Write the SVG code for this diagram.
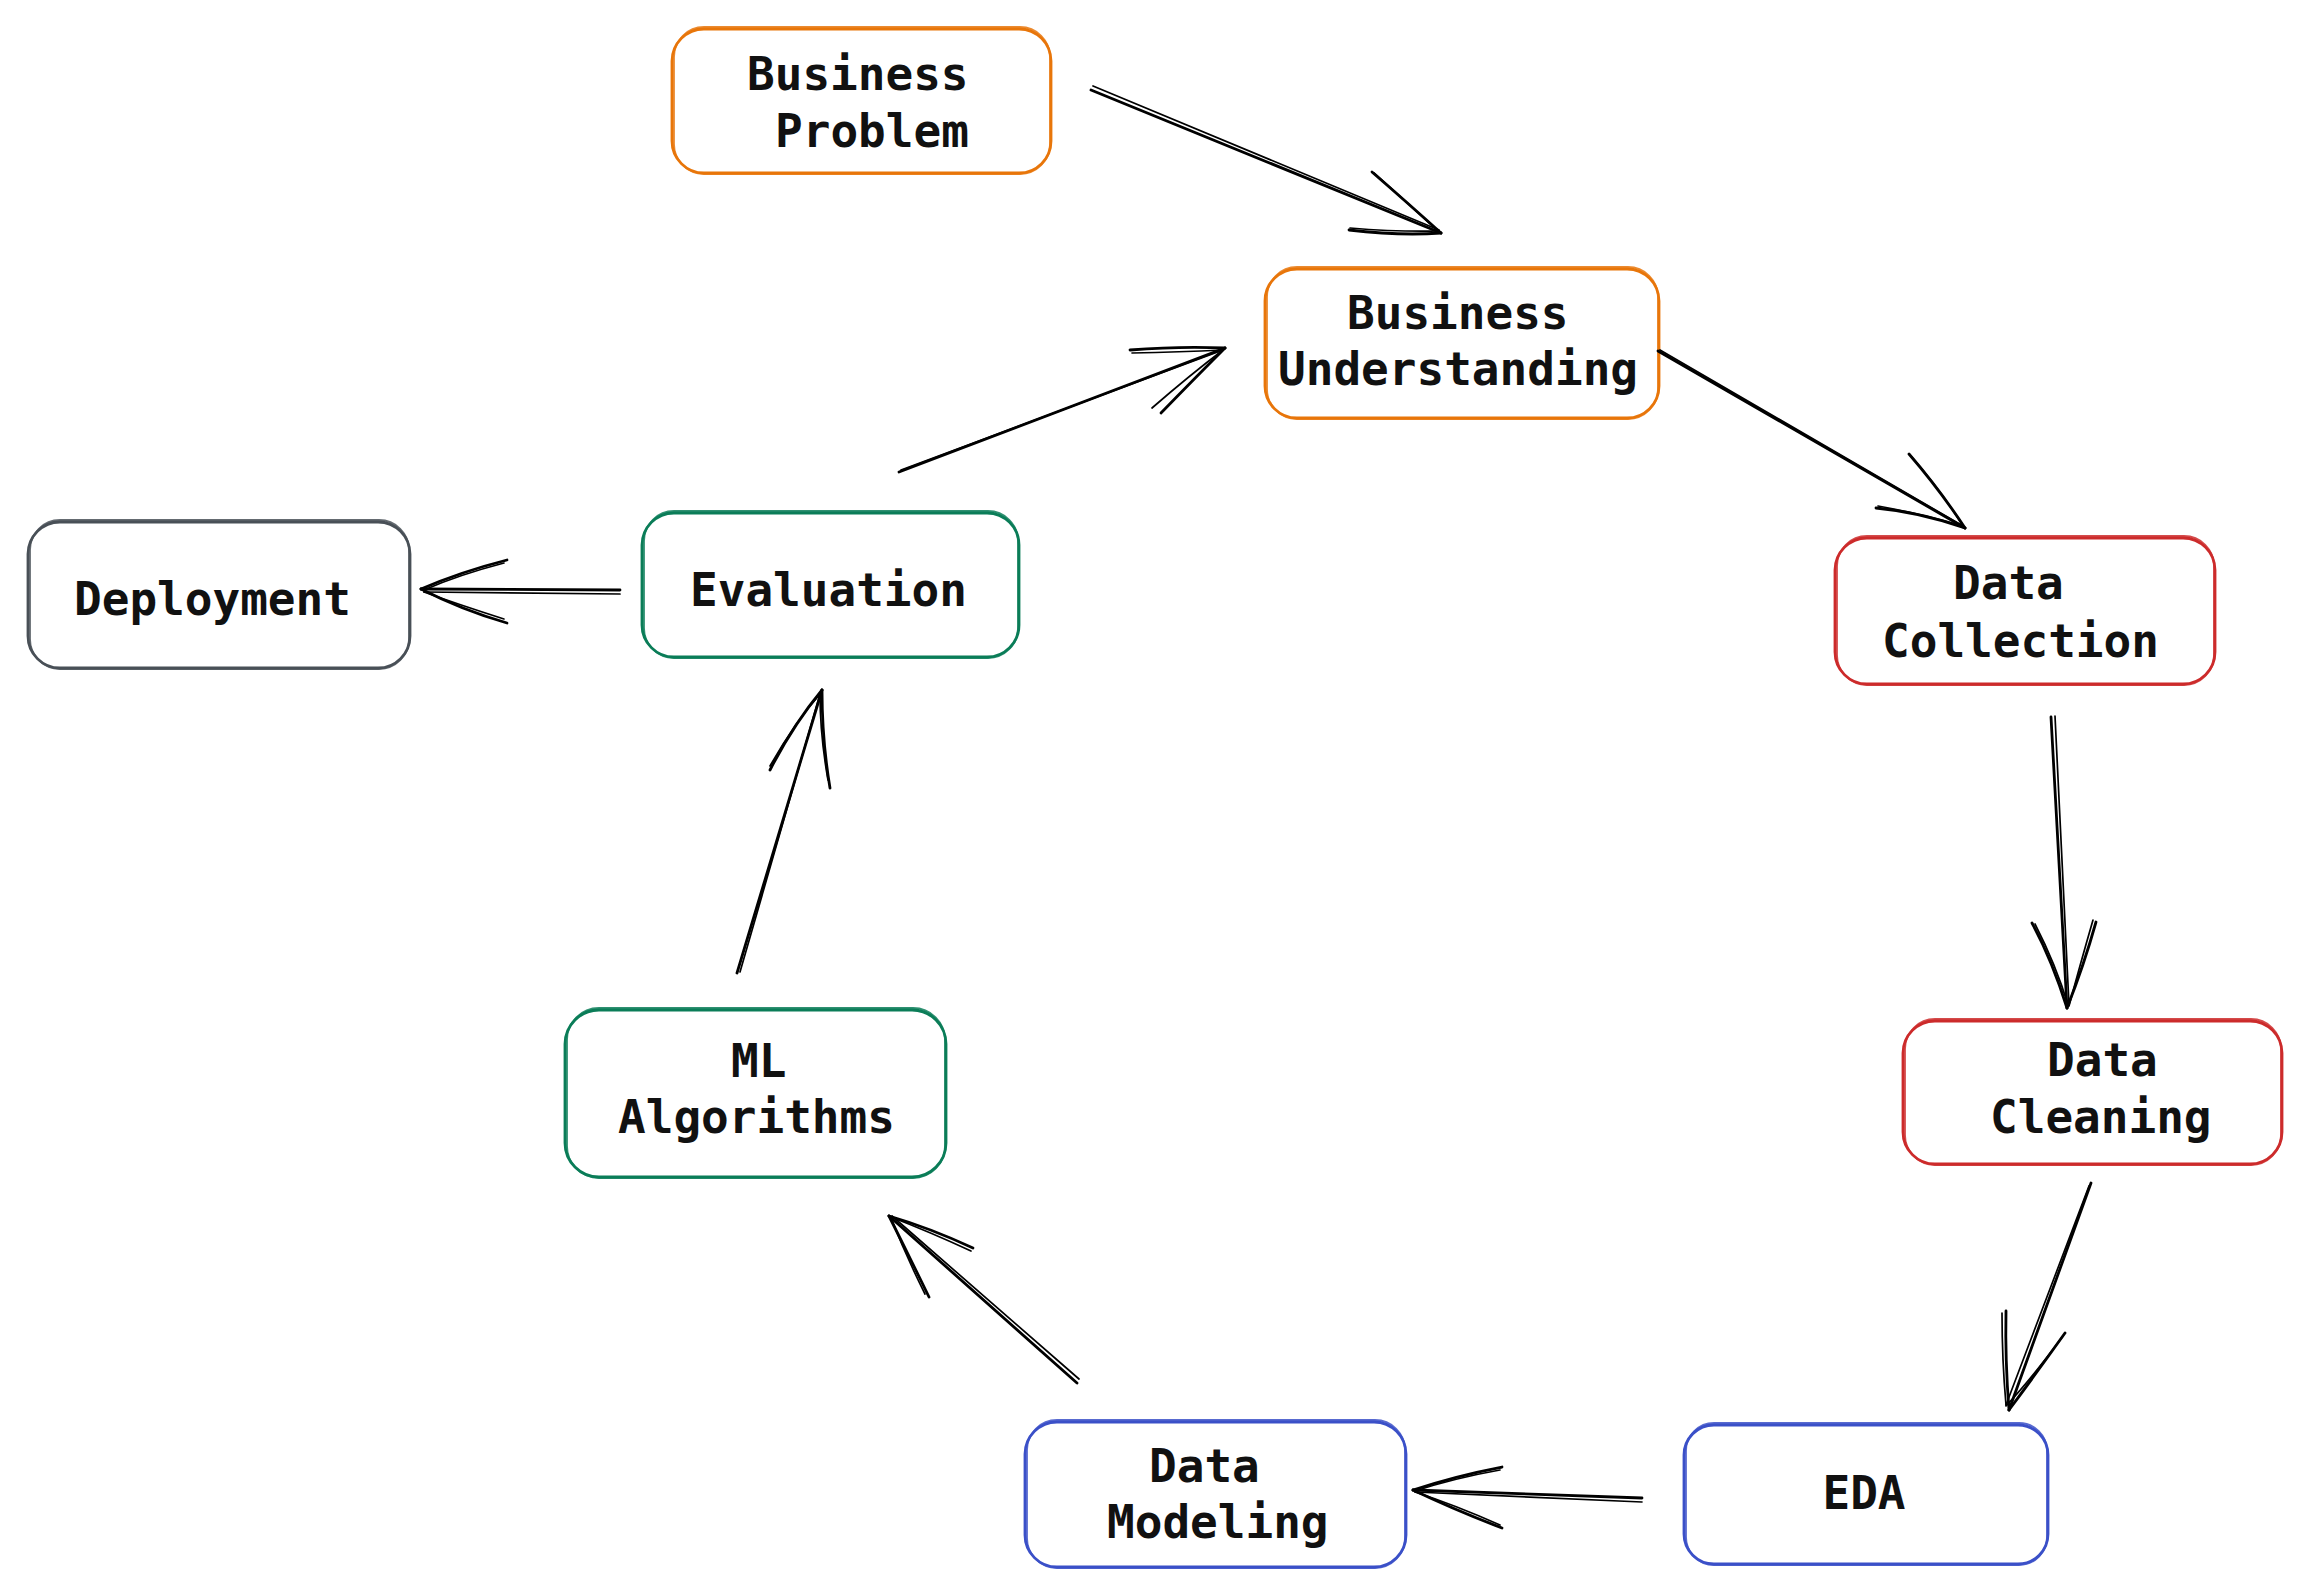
<svg xmlns="http://www.w3.org/2000/svg" width="2311" height="1596" viewBox="0 0 2311 1596">
<style>
.bx{fill:none;stroke-width:2.8;stroke-linejoin:round}
.bx2{fill:none;stroke-width:1.8;stroke-linejoin:round;opacity:0.85}
.or{stroke:#e8760a}
.rd{stroke:#cc2b2b}
.bl{stroke:#3b50c8}
.gr{stroke:#0b7d58}
.gy{stroke:#495057}
.t{font-family:"DejaVu Sans Mono","Liberation Mono",monospace;font-size:46px;font-weight:bold;fill:#111}
.ln{fill:none;stroke:#000;stroke-width:2.8;stroke-linecap:round}
.ln2{fill:none;stroke:#000;stroke-width:1.7;stroke-linecap:round}
</style>
<rect width="2311" height="1596" fill="#fff"/>

<g id="business-problem">
<rect class="bx or" x="672" y="29" width="379" height="144" rx="32"/>
<rect class="bx2 or" x="674" y="27" width="376" height="147" rx="30"/>
<text class="t" x="747" y="90">Business</text>
<text class="t" x="775" y="147">Problem</text>
</g>

<g id="business-understanding">
<rect class="bx or" x="1265" y="269" width="394" height="149" rx="32"/>
<rect class="bx2 or" x="1267" y="267" width="391" height="152" rx="30"/>
<text class="t" x="1347" y="329">Business</text>
<text class="t" x="1278" y="385">Understanding</text>
</g>

<g id="data-collection">
<rect class="bx rd" x="1835" y="538" width="380" height="146" rx="32"/>
<rect class="bx2 rd" x="1837" y="536" width="377" height="149" rx="30"/>
<text class="t" x="1953" y="599">Data</text>
<text class="t" x="1882" y="657">Collection</text>
</g>

<g id="data-cleaning">
<rect class="bx rd" x="1903" y="1021" width="379" height="143" rx="32"/>
<rect class="bx2 rd" x="1905" y="1019" width="376" height="146" rx="30"/>
<text class="t" x="2047" y="1076">Data</text>
<text class="t" x="1990" y="1133">Cleaning</text>
</g>

<g id="eda">
<rect class="bx bl" x="1684" y="1425" width="364" height="139" rx="30"/>
<rect class="bx2 bl" x="1686" y="1423" width="361" height="142" rx="28"/>
<text class="t" x="1864" y="1509" text-anchor="middle">EDA</text>
</g>

<g id="data-modeling">
<rect class="bx bl" x="1025" y="1422" width="381" height="145" rx="32"/>
<rect class="bx2 bl" x="1027" y="1420" width="378" height="148" rx="30"/>
<text class="t" x="1149" y="1482">Data</text>
<text class="t" x="1107" y="1538">Modeling</text>
</g>

<g id="ml-algorithms">
<rect class="bx gr" x="565" y="1010" width="381" height="167" rx="34"/>
<rect class="bx2 gr" x="567" y="1008" width="378" height="170" rx="32"/>
<text class="t" x="731" y="1077">ML</text>
<text class="t" x="618" y="1133">Algorithms</text>
</g>

<g id="evaluation">
<rect class="bx gr" x="642" y="513" width="377" height="144" rx="32"/>
<rect class="bx2 gr" x="644" y="511" width="374" height="147" rx="30"/>
<text class="t" x="690" y="606">Evaluation</text>
</g>

<g id="deployment">
<rect class="bx gy" x="28" y="522" width="382" height="146" rx="32"/>
<rect class="bx2 gy" x="30" y="520" width="379" height="149" rx="30"/>
<text class="t" x="74" y="615">Deployment</text>
</g>

<g id="connectors">
<!-- BP -> BU -->
<path class="ln" d="M1091 90 L1441 233"/>
<path class="ln2" d="M1093 86 L1439 230"/>
<path class="ln" d="M1372 172 Q1410 205 1441 233"/>
<path class="ln2" d="M1374 173 Q1412 207 1438 231"/>
<path class="ln" d="M1349 230 Q1400 236 1441 233"/>
<path class="ln2" d="M1350 228 Q1398 232 1439 231"/>
<!-- Evaluation -> BU -->
<path class="ln" d="M899 472 L1225 348"/>
<path class="ln2" d="M901 470 L1223 350"/>
<path class="ln" d="M1130 350 Q1180 346 1225 348"/>
<path class="ln2" d="M1132 353 Q1180 352 1223 350"/>
<path class="ln" d="M1161 413 Q1195 378 1225 348"/>
<path class="ln2" d="M1152 408 Q1190 375 1223 350"/>
<!-- BU -> DC -->
<path class="ln" d="M1658 351 L1965 528"/>
<path class="ln2" d="M1660 350 L1963 526"/>
<path class="ln" d="M1909 454 Q1940 490 1965 528"/>
<path class="ln2" d="M1911 456 Q1942 492 1963 526"/>
<path class="ln" d="M1876 508 Q1920 512 1965 528"/>
<path class="ln2" d="M1878 506 Q1922 514 1963 526"/>
<!-- DC -> DCl -->
<path class="ln" d="M2051 717 L2067 1008"/>
<path class="ln2" d="M2055 716 L2069 1005"/>
<path class="ln" d="M2032 923 Q2052 960 2067 1008"/>
<path class="ln2" d="M2035 924 Q2056 965 2068 1005"/>
<path class="ln" d="M2096 922 Q2084 965 2067 1008"/>
<path class="ln2" d="M2093 920 Q2080 965 2069 1006"/>
<!-- DCl -> EDA -->
<path class="ln" d="M2091 1183 L2009 1410"/>
<path class="ln2" d="M2089 1186 L2006 1405"/>
<path class="ln" d="M2006 1311 Q2005 1360 2009 1410"/>
<path class="ln2" d="M2002 1313 Q2002 1360 2006 1405"/>
<path class="ln" d="M2065 1333 Q2035 1375 2009 1410"/>
<path class="ln2" d="M2063 1336 Q2032 1378 2006 1406"/>
<!-- EDA -> DM -->
<path class="ln" d="M1642 1498 L1413 1490"/>
<path class="ln2" d="M1642 1502 L1415 1492"/>
<path class="ln" d="M1502 1467 Q1455 1476 1413 1490"/>
<path class="ln2" d="M1500 1470 Q1455 1478 1415 1491"/>
<path class="ln" d="M1502 1528 Q1455 1510 1413 1490"/>
<path class="ln2" d="M1500 1525 Q1455 1505 1415 1492"/>
<!-- DM -> ML -->
<path class="ln" d="M1077 1383 L889 1216"/>
<path class="ln2" d="M1079 1379 L892 1216"/>
<path class="ln" d="M973 1248 Q930 1228 889 1216"/>
<path class="ln2" d="M971 1251 Q930 1232 891 1217"/>
<path class="ln" d="M929 1297 Q910 1258 889 1216"/>
<path class="ln2" d="M925 1294 Q906 1256 891 1218"/>
<!-- ML -> Evaluation -->
<path class="ln" d="M737 973 L822 690"/>
<path class="ln2" d="M740 972 L820 694"/>
<path class="ln" d="M770 770 Q793 725 822 690"/>
<path class="ln2" d="M770 766 Q795 722 820 694"/>
<path class="ln" d="M830 788 Q822 740 822 690"/>
<path class="ln2" d="M828 780 Q820 735 820 694"/>
<!-- Evaluation -> Deployment -->
<path class="ln" d="M620 590 L421 589"/>
<path class="ln2" d="M620 594 L424 592"/>
<path class="ln" d="M507 560 Q460 572 421 589"/>
<path class="ln2" d="M504 563 Q458 575 424 590"/>
<path class="ln" d="M507 623 Q462 610 421 589"/>
<path class="ln2" d="M504 619 Q460 605 424 592"/>
</g>
</svg>
